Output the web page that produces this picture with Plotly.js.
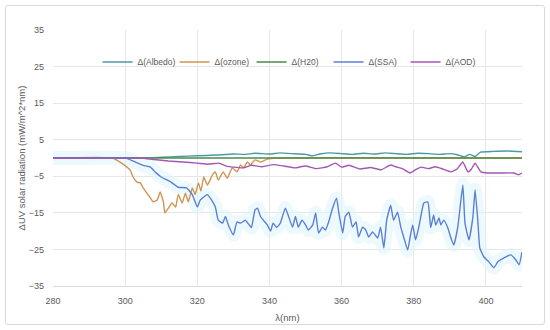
<!DOCTYPE html>
<html>
<head>
<meta charset="utf-8">
<script src="https://cdn.plot.ly/plotly-3.0.1.min.js"></script>
<style>
html,body{margin:0;padding:0;background:#fff;}
#wrap{position:relative;width:550px;height:330px;}
#frame{position:absolute;left:5px;top:5px;width:538px;height:318px;border:1px solid #d9d9d9;border-radius:3px;pointer-events:none;}
#chart{position:absolute;left:0;top:0;width:550px;height:330px;}
</style>
</head>
<body>
<div id="wrap"><div id="chart"></div><div id="frame"></div></div>
<script>
// ---- data (wavelength nm, delta UV radiation mW/m^2*nm) ----
const albedoNm  = [280,305,310,315,320,325,330,333,336,340,343,346,350,352,354,357,360,363,366,369,372,375,378,381,384,387,390,392,394,395.5,397,398.5,402,406,410];
const albedoVal = [0,0,0.2,0.4,0.6,0.8,1.1,1.0,1.3,1.1,1.4,1.2,1.0,0.6,1.1,1.4,1.2,1.0,1.3,1.1,1.4,1.2,1.0,1.3,1.2,1.0,1.2,0.9,0.3,1.0,0.4,1.6,1.8,1.9,1.7];

const ozoneNm  = [280,296.5,299,300.5,301.4,302.2,303.3,304.2,305,306,307,307.8,308.9,309.7,310.6,311,312,313,314,314.7,315.8,316.7,317.5,318.6,319.4,320.3,321,321.8,322.8,324.2,325,325.8,327.2,328.3,329.7,331,332,332.8,333.9,334.7,336,337.5,339.4,342,410];
const ozoneVal = [0,0,-1.4,-2.5,-3.3,-5.2,-6.6,-6.8,-8.2,-9.6,-10.9,-12,-11.5,-9.3,-12,-15,-13.7,-12.3,-13.4,-10,-12.3,-9.6,-12,-8.2,-10,-6.8,-9,-5.2,-7.4,-4.6,-3.8,-6,-3.8,-5.5,-2.7,-3.8,-1.9,-2.7,-1.1,-1.9,-0.5,-1.1,-0.3,0,0];

const h2oNm  = [280,320,360,400,410];
const h2oVal = [0,0,0,0,0];

const ssaNm  = [280,300,301,303,305,307,308.5,310,311.6,313,314.7,317,318.6,320,320.8,322.8,323.6,325,325.8,327,327.8,328.6,330,331,332,333.3,334,335,336,336.7,337.5,338.3,339.4,340.3,341,342,343,344.4,345.3,346.4,347.2,348,349,350,350.8,352,352.8,353.6,354.7,355.5,356.4,357.5,358.6,359.2,360.3,361,362,363,364,364.7,365.8,366.7,367.5,368.6,370,370.8,371.7,372.5,373.6,374.4,375.5,376.4,377.2,378.3,379,379.7,380.5,381.4,382.8,383.9,384.7,385.5,386.1,387,387.5,388.3,389.4,390.3,391.1,392.2,393.6,394.2,395.3,396.4,397,397.8,398.3,399.4,400.8,402.2,403.3,405,406.9,408.3,409.2,410];
const ssaVal = [0,0,-0.3,-1.2,-2,-2.5,-4,-5.2,-6,-6.8,-8,-8.2,-10,-13.4,-11.5,-10,-11,-13.4,-17,-17.8,-16,-18.3,-21,-17.5,-17.8,-17,-17.8,-19,-14.2,-13.7,-16,-17,-18.3,-20,-17.8,-19,-17.8,-13.7,-16,-18.9,-16,-18.9,-17,-18.3,-19.7,-18.3,-15,-20.5,-18.9,-19.7,-17.5,-13.7,-11,-14.8,-20.5,-16,-14.8,-18.9,-17.5,-21.6,-18.9,-19.7,-21.6,-20.2,-21.9,-18.9,-24.6,-17,-12.9,-17,-14.8,-18.9,-21.6,-25.2,-21.6,-18.3,-22.4,-18.9,-12.3,-12,-19,-15.6,-18.3,-16.4,-18.3,-17,-19,-21.9,-23.8,-18.9,-7.4,-17.8,-22.4,-16,-8.7,-17.8,-24.6,-27,-28.4,-30,-28.4,-27.3,-26.5,-27.9,-29.2,-25.7];

const aodNm  = [280,304,308,312,316,320,323,326,328,330,332.8,335,338,341,344,347,350,353,356,358.3,360,362,365,368,371,373.6,375,377,379,380.5,382,384,386,388,390.3,392,393.6,395,396,397,398.6,400.5,404,407.8,409,410];
const aodVal = [0,0,-0.4,-0.8,-1.1,-1.4,-1.7,-1.4,-2.2,-2.5,-2.7,-2.0,-2.4,-1.8,-2.2,-2.7,-2.2,-2.9,-2.4,-1.4,-2.5,-2.0,-3.0,-2.6,-3.2,-1.9,-2.4,-3.0,-4.1,-3.2,-2.5,-2.9,-2.4,-3.0,-3.8,-3.0,-1.1,-3.8,-3.0,-1.4,-3.8,-4.1,-4.1,-4.1,-4.6,-4.1];

const seriesNames = ["Δ(Albedo)","Δ(ozone)","Δ(H20)","Δ(SSA)","Δ(AOD)"];

const lineShape = {shape:'spline', smoothing:0.4};
const traces = [
  // soft glow beneath SSA
  {x:ssaNm, y:ssaVal, mode:'lines', showlegend:false, hoverinfo:'skip',
   line:Object.assign({color:'rgba(222,246,252,0.55)', width:14}, lineShape)},
  {x:albedoNm, y:albedoVal, name:seriesNames[0], mode:'lines', line:Object.assign({color:'#4a9aa6', width:1.4}, lineShape)},
  {x:ozoneNm, y:ozoneVal, name:seriesNames[1], mode:'lines', line:Object.assign({color:'#d09550', width:1.4}, lineShape)},
  {x:h2oNm, y:h2oVal, name:seriesNames[2], mode:'lines', line:{color:'#4e8a4a', width:1.4}},
  {x:ssaNm, y:ssaVal, name:seriesNames[3], mode:'lines', line:Object.assign({color:'#5c7fd6', width:1.4}, lineShape)},
  {x:aodNm, y:aodVal, name:seriesNames[4], mode:'lines', line:Object.assign({color:'#a456b4', width:1.4}, lineShape)}
];

const font = {family:'"Liberation Sans", Arial, sans-serif', size:9, color:'#595959'};
const layout = {
  width:550, height:330,
  margin:{l:53, r:28, t:30, b:44},
  paper_bgcolor:'#ffffff', plot_bgcolor:'#ffffff',
  font:font,
  showlegend:true,
  legend:{orientation:'h', x:0.095, y:0.875, xanchor:'left', yanchor:'middle',
          entrywidth:32, entrywidthmode:'pixels', font:{family:font.family, size:8.5, color:'#595959'},
          bgcolor:'rgba(0,0,0,0)', itemwidth:30, traceorder:'normal'},
  xaxis:{range:[280,410], tick0:280, dtick:20, showgrid:true, gridcolor:'#e6e6e6', gridwidth:1,
         zeroline:false, showline:true, linecolor:'#d9d9d9', ticks:'', ticklabelstandoff:6,
         tickfont:font, title:{text:'λ(nm)', font:{family:font.family, size:9.5, color:'#595959'}, standoff:9}},
  yaxis:{range:[-35,35], tick0:-35, dtick:10, showgrid:true, gridcolor:'#e6e6e6', gridwidth:1,
         zeroline:false, showline:false, ticks:'', ticklabelstandoff:8,
         tickfont:font, title:{text:'ΔUV solar radiation (mW/m^2*nm)', font:{family:font.family, size:9.5, color:'#595959'}, standoff:1}}
};
Plotly.newPlot('chart', traces, layout, {displayModeBar:false, staticPlot:true});
</script>
</body>
</html>
